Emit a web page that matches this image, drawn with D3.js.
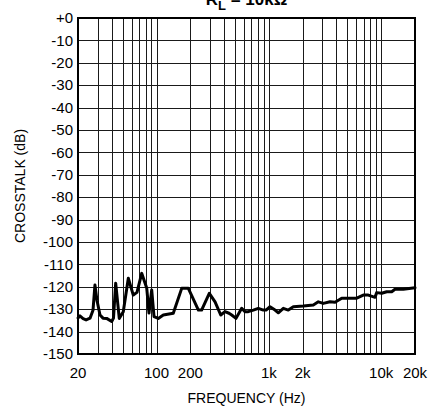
<!DOCTYPE html>
<html lang="en">
<head>
<meta charset="UTF-8">
<title>Crosstalk vs Frequency</title>
<script src="https://cdn.jsdelivr.net/npm/d3@7"></script>
<style>
body { margin: 0; background: #fff; }
svg { display: block; font-family: "Liberation Sans", Arial, sans-serif; }
</style>
</head>
<body>
<div id="chart"></div>
<script>
// curve (Hz, dB)
const FREQ = [20, 20.8, 22.2, 23.6, 25.6, 27.2, 28.3, 29.5, 31.4, 33.4, 36.0, 39.9, 41.4, 43.3,
    46.6, 50.6, 56.1, 62.1, 67.0, 73.8, 81.8, 85.7, 90.6, 95.0, 103.7, 114.9, 141, 167.6,
    192, 236, 252, 295, 332, 373, 407, 442, 467, 510, 573, 613, 656, 727, 806, 893, 944,
    1024, 1135, 1214, 1345, 1490, 1651, 2026, 2488, 2756, 3054, 3504, 3882, 4453, 6056,
    6932, 7680, 8811, 9124, 10106, 11198, 12408, 13274, 15731, 20000];
const CROSSTALK = [-133.9, -133.0, -134.2, -134.8, -134.0, -130.5, -119.2, -126, -132.6, -134.0,
    -134.1, -135.5, -134, -118.4, -134.1, -131.1, -116.2, -123.7, -122.5, -114.0, -120.5,
    -131.7, -121.4, -133.3, -134.1, -132.6, -131.8, -120.7, -120.7, -130.4, -130.4, -122.9,
    -126.7, -132.6, -131.1, -131.8, -132.6, -134.1, -129.6, -131.1, -131.1, -130.4, -129.6,
    -130.4, -130.4, -128.9, -130.4, -131.6, -129.6, -130.4, -128.9, -128.6, -128.1, -126.7,
    -127.4, -126.7, -126.9, -125.1, -125.1, -123.7, -123.7, -124.7, -122.6, -122.9, -122.2,
    -122.2, -121.1, -121.1, -120.4];

const X_TICKS = [20, 100, 200, 1000, 2000, 10000, 20000];
const X_TICK_LABELS = ["20", "100", "200", "1k", "2k", "10k", "20k"];
const Y_TICKS = d3.range(0, -151, -10);

const WIDTH = 434;
const HEIGHT = 415;
const margin = {top: 18, right: 19, bottom: 61, left: 78};

const svg = d3.select("#chart").append("svg")
    .attr("width", WIDTH)
    .attr("height", HEIGHT);

const x = d3.scaleLog()
    .domain([20, 20000])
    .range([margin.left, WIDTH - margin.right]);
const y = d3.scaleLinear()
    .domain([0, -150])
    .range([margin.top, HEIGHT - margin.bottom]);

// log grid: every 1..9 step in each decade
const vGrid = [];
for (const dec of [10, 100, 1000, 10000]) {
    for (let m = 1; m < 10; m++) {
        const f = dec * m;
        if (f > 20 && f < 20000) vGrid.push(f);
    }
}

const grid = svg.append("g").attr("stroke", "#1a1a1a").attr("stroke-width", 1);
grid.selectAll("line.v").data(vGrid).join("line")
    .attr("class", "v")
    .attr("x1", d => Math.round(x(d)) + 0.5)
    .attr("x2", d => Math.round(x(d)) + 0.5)
    .attr("y1", y(0))
    .attr("y2", y(-150));
grid.selectAll("line.h").data(Y_TICKS.slice(1, -1)).join("line")
    .attr("class", "h")
    .attr("x1", x(20))
    .attr("x2", x(20000))
    .attr("y1", d => Math.round(y(d)) + 0.5)
    .attr("y2", d => Math.round(y(d)) + 0.5);

// curve
const line = d3.line()
    .x((d, i) => x(FREQ[i]))
    .y(d => y(d));
svg.append("path")
    .datum(CROSSTALK)
    .attr("fill", "none")
    .attr("stroke", "#000")
    .attr("stroke-width", 3)
    .attr("stroke-linejoin", "round")
    .attr("stroke-linecap", "round")
    .attr("d", line);

// frame
svg.append("rect")
    .attr("x", x(20))
    .attr("y", y(0))
    .attr("width", x(20000) - x(20))
    .attr("height", y(-150) - y(0))
    .attr("fill", "none")
    .attr("stroke", "#000")
    .attr("stroke-width", 2);

// y ticks
svg.append("g").selectAll("text").data(Y_TICKS).join("text")
    .attr("x", margin.left - 5)
    .attr("y", d => y(d))
    .attr("dy", "0.35em")
    .attr("text-anchor", "end")
    .attr("font-size", 15)
    .text(d => d === 0 ? "+0" : String(d));

// x ticks
svg.append("g").selectAll("text").data(X_TICKS).join("text")
    .attr("x", d => x(d))
    .attr("y", y(-150) + 24)
    .attr("text-anchor", "middle")
    .attr("font-size", 15)
    .text((d, i) => X_TICK_LABELS[i]);

// axis titles
svg.append("text")
    .attr("x", (x(20) + x(20000)) / 2)
    .attr("y", 403)
    .attr("text-anchor", "middle")
    .attr("font-size", 14)
    .text("FREQUENCY (Hz)");

svg.append("text")
    .attr("transform", `translate(25, ${(y(0) + y(-150)) / 2}) rotate(-90)`)
    .attr("text-anchor", "middle")
    .attr("font-size", 14)
    .text("CROSSTALK (dB)");

// title, cut at the top as in the original
const title = svg.append("text")
    .attr("x", (x(20) + x(20000)) / 2)
    .attr("y", 5)
    .attr("text-anchor", "middle")
    .attr("font-size", 17)
    .attr("font-weight", "bold");
title.append("tspan").text("R");
title.append("tspan").attr("dy", 5).attr("font-size", 13).text("L");
title.append("tspan").attr("dy", -5).text(" = 10k\u03A9");
</script>
</body>
</html>
